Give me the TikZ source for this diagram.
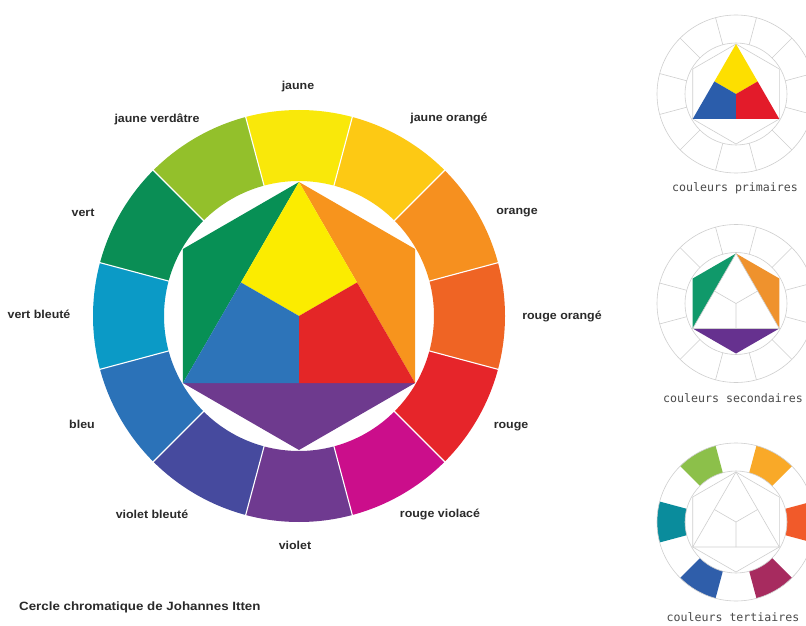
\documentclass[tikz,border=0pt]{standalone}
\usepackage{fontspec}
\usepackage{graphicx}
\setmainfont{Liberation Sans}
\newfontfamily\smallfont{DejaVu Sans Mono}
\usetikzlibrary{calc}
\definecolor{cJ}{HTML}{F9E80A}
\definecolor{cJO}{HTML}{FDC914}
\definecolor{cO}{HTML}{F6901F}
\definecolor{cRO}{HTML}{EF6424}
\definecolor{cR}{HTML}{E6252A}
\definecolor{cRV}{HTML}{CB0E8B}
\definecolor{cV}{HTML}{6F3A90}
\definecolor{cVB}{HTML}{464A9E}
\definecolor{cB}{HTML}{2B72B8}
\definecolor{cVeB}{HTML}{0B9AC6}
\definecolor{cVe}{HTML}{0A8E55}
\definecolor{cJV}{HTML}{93C02B}
\definecolor{iY}{HTML}{FBEC00}
\definecolor{iO}{HTML}{F7941D}
\definecolor{iG}{HTML}{079055}
\definecolor{iB}{HTML}{2D74B9}
\definecolor{iR}{HTML}{E42627}
\definecolor{iP}{HTML}{6E3A8E}
\definecolor{sY}{HTML}{FDDF00}
\definecolor{sB}{HTML}{2B5DAB}
\definecolor{sR}{HTML}{E31B2A}
\definecolor{sG}{HTML}{10996A}
\definecolor{sO}{HTML}{EF922D}
\definecolor{sP}{HTML}{66318F}
\definecolor{tJV}{HTML}{8CC04A}
\definecolor{tJO}{HTML}{F9A928}
\definecolor{tRO}{HTML}{F15A2A}
\definecolor{tRV}{HTML}{A72B5F}
\definecolor{tVB}{HTML}{2F5EAA}
\definecolor{tVeB}{HTML}{0A8C9C}
\definecolor{grayline}{HTML}{CFCFCF}
\definecolor{txt}{HTML}{2A2A2A}
\tikzset{
  lbl/.style={font=\bfseries\fontsize{11.5}{13}\selectfont, text=txt, inner sep=0pt},
  ttl/.style={font=\bfseries\fontsize{12}{14}\selectfont, text=txt, inner sep=0pt},
  smalllbl/.style={font=\smallfont\fontsize{11.6}{13}\selectfont, text=txt!85, inner sep=0pt},
  thin gray/.style={draw=grayline, line width=0.6pt},
}
\newcommand{\wide}[1]{\scalebox{1.08}[1]{#1}}
% segment: #1 color, #2 center angle, #3 inner r, #4 outer r
\newcommand{\seg}[4]{\fill[#1] ({#2-15}:#4) arc[start angle={#2-15}, end angle={#2+15}, radius=#4 pt] -- ({#2+15}:#3) arc[start angle={#2+15}, end angle={#2-15}, radius=#3 pt] -- cycle;}
\begin{document}
\begin{tikzpicture}[x=1pt,y=1pt]
\fill[white] (0,0) rectangle (806,625);
\useasboundingbox (0,0) rectangle (806,625);
\clip (0,0) rectangle (806,625);

% ---------------- main wheel ----------------
\begin{scope}[shift={(299,309)}]
  \seg{cJ}{90}{135}{206}
  \seg{cJO}{60}{135}{206}
  \seg{cO}{30}{135}{206}
  \seg{cRO}{0}{135}{206}
  \seg{cR}{-30}{135}{206}
  \seg{cRV}{-60}{135}{206}
  \seg{cV}{-90}{135}{206}
  \seg{cVB}{-120}{135}{206}
  \seg{cB}{-150}{135}{206}
  \seg{cVeB}{180}{135}{206}
  \seg{cVe}{150}{135}{206}
  \seg{cJV}{120}{135}{206}
  \foreach \a in {15,45,...,345} \draw[white, line width=1.1pt] (\a:134) -- (\a:207);
  \coordinate (T) at (90:134);
  \coordinate (UL) at (150:134);
  \coordinate (LL) at (210:134);
  \coordinate (Bt) at (270:134);
  \coordinate (LR) at (330:134);
  \coordinate (UR) at (30:134);
  \coordinate (O) at (0,0);
  \coordinate (ML) at ($(T)!0.5!(LL)$);
  \coordinate (MR) at ($(T)!0.5!(LR)$);
  \coordinate (MB) at ($(LL)!0.5!(LR)$);
  \fill[iG] (T) -- (UL) -- (LL) -- cycle;
  \fill[iO] (T) -- (UR) -- (LR) -- cycle;
  \fill[iP] (LL) -- (Bt) -- (LR) -- cycle;
  \fill[iY] (T) -- (ML) -- (O) -- (MR) -- cycle;
  \fill[iB] (ML) -- (LL) -- (MB) -- (O) -- cycle;
  \fill[iR] (MR) -- (O) -- (MB) -- (LR) -- cycle;
\end{scope}

% labels
\node[lbl] (ljaune) at (298,538) {\wide{jaune}};
\node[lbl] (ljo) at (449,506) {\wide{jaune orangé}};
\node[lbl] (lorange) at (517,412) {\wide{orange}};
\node[lbl] (lro) at (562,308) {\wide{rouge orangé}};
\node[lbl] (lrouge) at (511,198) {\wide{rouge}};
\node[lbl] (lrv) at (440,111) {\wide{rouge violacé}};
\node[lbl] (lviolet) at (295,80) {\wide{violet}};
\node[lbl] (lvb) at (152,111) {\wide{violet bleuté}};
\node[lbl] (lbleu) at (82,201) {\wide{bleu}};
\node[lbl] (lveb) at (39,311) {\wide{vert bleuté}};
\node[lbl] (lvert) at (83,412) {\wide{vert}};
\node[lbl] (ljv) at (157,506) {\wide{jaune verdâtre}};
\node[ttl, anchor=west] (title) at (19,18) {\scalebox{1.11}[1]{Cercle chromatique de Johannes Itten}};

% ---------------- small wheels ----------------
% primaires
\begin{scope}[shift={(736,531)}]
  \coordinate (pT) at (90:50); \coordinate (pUL) at (150:50); \coordinate (pLL) at (210:50);
  \coordinate (pB) at (270:50); \coordinate (pLR) at (330:50); \coordinate (pUR) at (30:50);
  \coordinate (pO) at (0,0);
  \coordinate (pML) at ($(pT)!0.5!(pLL)$); \coordinate (pMR) at ($(pT)!0.5!(pLR)$); \coordinate (pMB) at ($(pLL)!0.5!(pLR)$);
  \draw[thin gray] (0,0) circle[radius=79pt];
  \draw[thin gray] (0,0) circle[radius=51pt];
  \foreach \a in {15,45,...,345} \draw[thin gray] (\a:51) -- (\a:79);
  \draw[thin gray] (pT) -- (pUL) -- (pLL) -- (pB) -- (pLR) -- (pUR) -- cycle;
  \fill[sY] (pT) -- (pML) -- (pO) -- (pMR) -- cycle;
  \fill[sB] (pML) -- (pLL) -- (pMB) -- (pO) -- cycle;
  \fill[sR] (pMR) -- (pO) -- (pMB) -- (pLR) -- cycle;
\end{scope}
\node[smalllbl] (lprim) at (735,437) {couleurs primaires};

% secondaires
\begin{scope}[shift={(736,321.5)}]
  \coordinate (sT) at (90:50); \coordinate (sUL) at (150:50); \coordinate (sLL) at (210:50);
  \coordinate (sB) at (270:50); \coordinate (sLR) at (330:50); \coordinate (sUR) at (30:50);
  \coordinate (sO) at (0,0);
  \coordinate (sML) at ($(sT)!0.5!(sLL)$); \coordinate (sMR) at ($(sT)!0.5!(sLR)$); \coordinate (sMB) at ($(sLL)!0.5!(sLR)$);
  \draw[thin gray] (0,0) circle[radius=79pt];
  \draw[thin gray] (0,0) circle[radius=51pt];
  \foreach \a in {15,45,...,345} \draw[thin gray] (\a:51) -- (\a:79);
  \fill[sG] (sT) -- (sUL) -- (sLL) -- cycle;
  \fill[sO] (sT) -- (sUR) -- (sLR) -- cycle;
  \fill[sP] (sLL) -- (sB) -- (sLR) -- cycle;
  \draw[thin gray] (sML) -- (sO) -- (sMR) (sO) -- (sMB);
  \draw[thin gray] (sT) -- (sLL) -- (sLR) -- cycle;
\end{scope}
\node[smalllbl] (lsec) at (733,227) {couleurs secondaires};

% tertiaires
\begin{scope}[shift={(736,103)}]
  \coordinate (tT) at (90:50); \coordinate (tUL) at (150:50); \coordinate (tLL) at (210:50);
  \coordinate (tB) at (270:50); \coordinate (tLR) at (330:50); \coordinate (tUR) at (30:50);
  \coordinate (tO) at (0,0);
  \coordinate (tML) at ($(tT)!0.5!(tLL)$); \coordinate (tMR) at ($(tT)!0.5!(tLR)$); \coordinate (tMB) at ($(tLL)!0.5!(tLR)$);
  \seg{tJV}{120}{51}{79}
  \seg{tJO}{60}{51}{79}
  \seg{tRO}{0}{51}{79}
  \seg{tRV}{-60}{51}{79}
  \seg{tVB}{-120}{51}{79}
  \seg{tVeB}{180}{51}{79}
  \draw[thin gray] (0,0) circle[radius=79pt];
  \draw[thin gray] (0,0) circle[radius=51pt];
  \draw[thin gray] (tT) -- (tUL) -- (tLL) -- (tB) -- (tLR) -- (tUR) -- cycle;
  \draw[thin gray] (tT) -- (tLL) -- (tLR) -- cycle;
  \draw[thin gray] (tML) -- (tO) -- (tMR) (tO) -- (tMB);
\end{scope}
\node[smalllbl] (lter) at (733,8) {couleurs tertiaires};
\end{tikzpicture}
\end{document}
